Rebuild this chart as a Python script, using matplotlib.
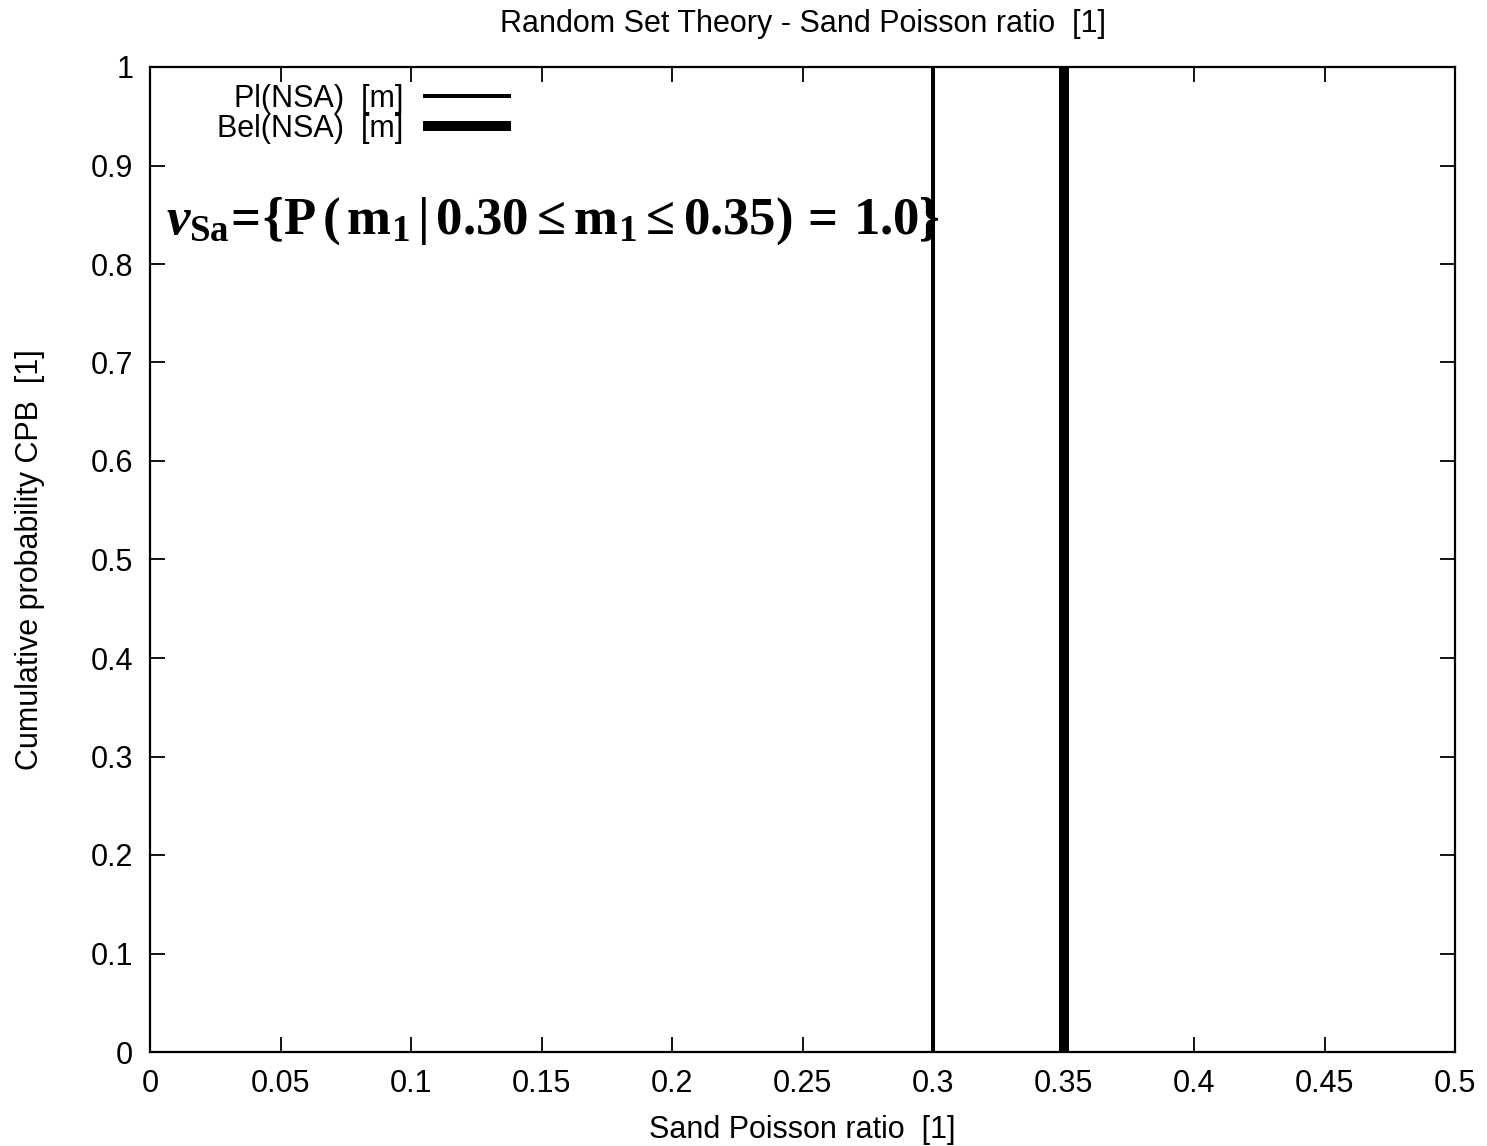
import numpy as np
import matplotlib.pyplot as plt
from matplotlib.ticker import FuncFormatter, MultipleLocator

plt.rcParams['font.family'] = ['Liberation Sans', 'DejaVu Sans']
plt.rcParams['mathtext.fontset'] = 'custom'
plt.rcParams['mathtext.rm'] = 'Liberation Serif:bold'
plt.rcParams['mathtext.bf'] = 'Liberation Serif:bold'
plt.rcParams['mathtext.it'] = 'Liberation Serif:italic:bold'

# data
pl_x = [0.30, 0.30]
pl_y = [0.0, 1.0]
bel_x = [0.35, 0.35]
bel_y = [0.0, 1.0]
labels = ['Pl(NSA)  [m]', 'Bel(NSA)  [m]']

fig = plt.figure(figsize=(14.87, 11.46), dpi=100)
ax = fig.add_axes([150/1487, 1 - 1052/1146, 1305/1487, 985/1146])

ax.plot(pl_x, pl_y, color='black', lw=2.9, label=labels[0], solid_capstyle='butt')
ax.plot(bel_x, bel_y, color='black', lw=7.2, label=labels[1], solid_capstyle='butt')

ax.set_xlim(0, 0.5)
ax.set_ylim(0, 1)
ax.xaxis.set_major_locator(MultipleLocator(0.05))
ax.yaxis.set_major_locator(MultipleLocator(0.1))
fmt = FuncFormatter(lambda v, p: '%g' % round(v, 4))
ax.xaxis.set_major_formatter(fmt)
ax.yaxis.set_major_formatter(fmt)
ax.tick_params(direction='in', length=11, width=1.3, top=True, right=True,
               labelsize=22, pad=12)
for s in ax.spines.values():
    s.set_linewidth(1.6)

ax.set_title('Random Set Theory - Sand Poisson ratio  [1]', fontsize=22, pad=25)
ax.set_xlabel('Sand Poisson ratio  [1]', fontsize=22, labelpad=12)
ax.set_ylabel('Cumulative probability CPB  [1]', fontsize=22, labelpad=33)

leg = ax.legend(loc='upper left', bbox_to_anchor=(0.030, 1.011), frameon=False,
                markerfirst=False, fontsize=22, handlelength=2.9,
                handletextpad=0.65, labelspacing=0.0)

ax.text(0.012, 0.843,
        r'$\nu_{\mathbf{Sa}}\!=\!\{\mathbf{P}\,(\,\mathbf{m_1}\,|\,\mathbf{0.30}\leq\mathbf{m_1}\leq\mathbf{0.35})\,=\,\mathbf{1.0}\}$',
        transform=ax.transAxes, fontsize=38, va='center', ha='left')

fig.savefig('out.png', dpi=100)
